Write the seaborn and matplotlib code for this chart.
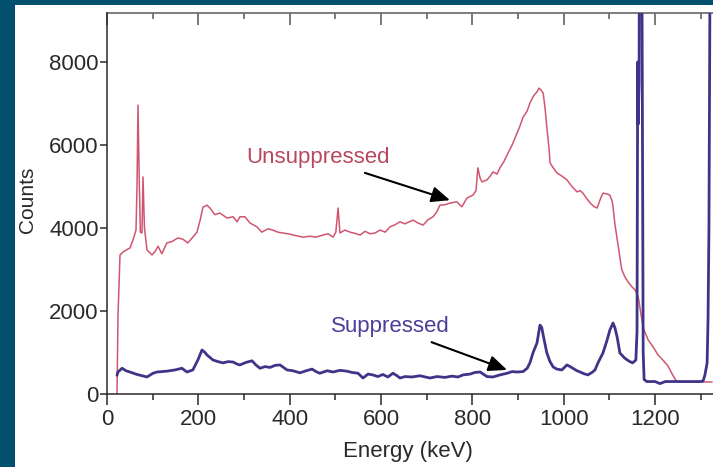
import numpy as np
import pandas as pd
import matplotlib
matplotlib.use("Agg")
import matplotlib.pyplot as plt
import seaborn as sns
from matplotlib.patches import Rectangle
from matplotlib.ticker import MultipleLocator

# ---------------- data ----------------
unsup_energy = [21.9, 24.1, 28.5, 35, 43.8, 50.4, 56.9, 63.5, 65.7, 67.9, 70, 73, 76.6, 78.8, 82,
                87.6, 94.2, 98.5, 105, 111.7, 120, 131, 142, 155, 166, 177, 188, 197, 204, 210,
                219, 225.5, 236, 247, 263, 276, 285, 291, 302, 313, 328, 339, 352.5, 363, 374,
                385, 401, 412, 429, 444.5, 457.6, 473, 484, 495, 501, 506, 510, 521, 532, 543,
                554, 565, 576, 587, 598, 609, 620, 631, 641.5, 652, 670, 681, 692, 703, 714,
                722.6, 729, 740, 751, 760, 766, 777, 788, 801, 808, 812, 817, 821, 832, 839,
                845, 854, 860.5, 869, 876, 887, 898, 904, 911, 920, 926, 935, 941.5, 946, 950,
                955, 959, 963, 968, 970, 977, 985, 996, 1007, 1018, 1029, 1036, 1042, 1051,
                1058, 1066, 1073, 1077, 1082, 1086, 1095, 1101, 1106, 1108, 1112, 1115, 1121,
                1123, 1127, 1134, 1141, 1149.5, 1156, 1163, 1174, 1185, 1196, 1206, 1217, 1228,
                1239, 1246, 1256, 1298, 1325]
unsup_counts = [0, 1900, 3350, 3420, 3480, 3520, 3710, 3950, 5000, 6960, 5500, 3900, 3880, 5230, 4000,
                3470, 3400, 3350, 3430, 3560, 3380, 3640, 3670, 3760, 3730, 3640, 3780, 3900, 4190, 4500,
                4550, 4480, 4320, 4360, 4240, 4270, 4150, 4270, 4270, 4120, 4030, 3900, 3980, 3950, 3900,
                3880, 3850, 3820, 3780, 3800, 3780, 3830, 3860, 3780, 3900, 4480, 3880, 3950, 3900, 3870,
                3830, 3920, 3860, 3880, 3950, 3900, 4030, 4080, 4150, 4100, 4190, 4120, 4070, 4200, 4270,
                4400, 4550, 4560, 4600, 4620, 4630, 4510, 4720, 4790, 4900, 5450, 5200, 5110, 5160, 5250,
                5350, 5300, 5450, 5600, 5760, 6000, 6290, 6450, 6670, 6820, 7010, 7200, 7280, 7370, 7330,
                7250, 6900, 6430, 5900, 5570, 5450, 5330, 5250, 5160, 5000, 4870, 4900, 4840, 4700,
                4600, 4520, 4480, 4600, 4750, 4840, 4820, 4790, 4650, 4510, 4100, 3880, 3450,
                3300, 3000, 2820, 2700, 2580, 2510, 2350, 1590, 1300, 1130, 950, 820, 680,
                450, 320, 290, 290, 290]

sup_energy = [21.9, 24, 33, 41.6, 50, 66, 87.6, 100.7, 109.5, 131, 149, 164, 175, 188, 199, 208,
              214.6, 219, 232, 243, 254, 265, 276, 285, 291, 304, 317.5, 326, 335, 346, 357, 368,
              379, 394, 407, 422.6, 436, 449, 457.6, 466, 482, 495, 510, 525.5, 536, 549.6, 560.5,
              571.5, 582, 593, 604, 615, 626, 635, 641.5, 652.5, 668, 685, 700.7, 707, 722.6, 740,
              755, 768.5, 779.5, 795, 806, 817, 832, 845, 860.5, 876, 887, 898, 911, 920, 926, 933,
              941.5, 948, 952, 955, 959, 963, 970, 977, 985, 996, 1007, 1014, 1020, 1029, 1036,
              1044, 1053, 1062, 1068.5, 1075, 1086, 1095, 1101, 1108, 1112, 1117, 1123, 1132, 1139,
              1145, 1151, 1158, 1160.5, 1162, 1163, 1165, 1167.5, 1169.7, 1171.6, 1174, 1176, 1182,
              1200, 1211, 1222, 1255, 1298, 1305, 1309, 1314, 1316, 1318, 1320, 1322, 1327]
sup_counts = [450, 530, 620, 560, 530, 470, 410, 500, 530, 550, 580, 620, 530, 580, 820, 1060,
              1000, 940, 820, 780, 750, 780, 770, 720, 700, 760, 800, 700, 620, 660, 640, 690,
              700, 580, 560, 510, 560, 600, 540, 500, 560, 530, 570, 550, 520, 500, 385,
              480, 460, 420, 470, 410, 500, 440, 385, 420, 410, 440, 400, 385, 420, 400,
              430, 410, 460, 480, 520, 530, 420, 410, 460, 500, 540, 530, 540, 620, 750, 1000,
              1230, 1660, 1600, 1420, 1200, 990, 780, 650, 600, 580, 700, 660, 620, 560, 530,
              490, 460, 520, 580, 750, 990, 1300, 1540, 1710, 1600, 1370, 990, 880, 820,
              780, 750, 820, 1500, 8000, 6500, 7500, 20000, 20000, 9000, 1000, 350, 300,
              300, 250, 300, 300, 300, 310, 450, 750, 1800, 4000, 9000, 20000, 20000]

x_ticks = [0, 200, 400, 600, 800, 1000, 1200]
y_ticks = [0, 2000, 4000, 6000, 8000]

# ---------------- style ----------------
sns.set_theme(style="ticks")
plt.rcParams['font.family'] = ['Liberation Sans', 'DejaVu Sans']

W, H = 713, 467
fig = plt.figure(figsize=(W / 100, H / 100), dpi=100, facecolor='#03506e')
fig.patches.append(Rectangle((15 / W, 0), 1, (H - 5) / H, transform=fig.transFigure,
                             facecolor='white', edgecolor='none', zorder=-10))

ax = fig.add_axes([107 / W, 73 / H, 612 / W, 381 / H])
ax.set_zorder(1)
ax.patch.set_alpha(0)

df_u = pd.DataFrame({'Energy': unsup_energy, 'Counts': unsup_counts})
df_s = pd.DataFrame({'Energy': sup_energy, 'Counts': sup_counts})

sns.lineplot(data=df_u, x='Energy', y='Counts', ax=ax, color='#d05670', lw=1.1,
             estimator=None, sort=False, zorder=2)
sns.lineplot(data=df_s, x='Energy', y='Counts', ax=ax, color='#3e3589', lw=2.0,
             estimator=None, sort=False, zorder=3)

ax.set_xlim(0, 1340)
ax.set_ylim(0, 9180)
ax.set_xticks(x_ticks)
ax.set_yticks(y_ticks)
ax.xaxis.set_minor_locator(MultipleLocator(100))

for s in ['left', 'bottom']:
    ax.spines[s].set_color('#2a2a2a')
    ax.spines[s].set_linewidth(1.1)
ax.spines['right'].set_visible(False)
ax.spines['top'].set_visible(False)

ax.tick_params(axis='x', which='major', direction='out', length=8, width=1.1,
               color='#2a2a2a', labelsize=16, pad=3, labelcolor='#2a2a2a')
ax.tick_params(axis='x', which='minor', direction='out', length=4.5, width=1.1, color='#2a2a2a')
ax.tick_params(axis='y', which='major', direction='out', length=5, width=1.1,
               color='#2a2a2a', labelsize=16, pad=1, labelcolor='#2a2a2a')

sec = ax.secondary_xaxis('top')
sec.set_xticks(list(range(0, 1400, 200)))
sec.set_xticklabels([])
sec.xaxis.set_minor_locator(MultipleLocator(100))
sec.tick_params(which='major', direction='in', length=8.5, width=1.1, color='#555555')
sec.tick_params(which='minor', direction='in', length=4, width=1.1, color='#555555')
sec.spines['top'].set_color('#666666')
sec.spines['top'].set_linewidth(1.2)

ax.set_xlabel('')
ax.set_ylabel('')
fig.text(27 / W, 1 - 200 / H, 'Counts', rotation=90, ha='center', va='center',
         fontsize=15, color='#2a2a2a')
fig.text(408 / W, 1 - 452 / H, 'Energy (keV)', ha='center', va='center',
         fontsize=16, color='#2a2a2a')

ax.annotate('Unsuppressed', xy=(751, 4670), xytext=(462, 5690), ha='center', va='center',
            color='#b8485e', fontsize=16,
            arrowprops=dict(arrowstyle='-|>,head_length=0.7,head_width=0.3', color='black',
                            lw=1.5, shrinkA=3, shrinkB=0))
ax.annotate('Suppressed', xy=(876, 580), xytext=(620, 1615), ha='center', va='center',
            color='#4b3d98', fontsize=16,
            arrowprops=dict(arrowstyle='-|>,head_length=0.7,head_width=0.3', color='black',
                            lw=1.5, shrinkA=3, shrinkB=0))

fig.savefig('out.png', dpi=100, facecolor=fig.get_facecolor())
